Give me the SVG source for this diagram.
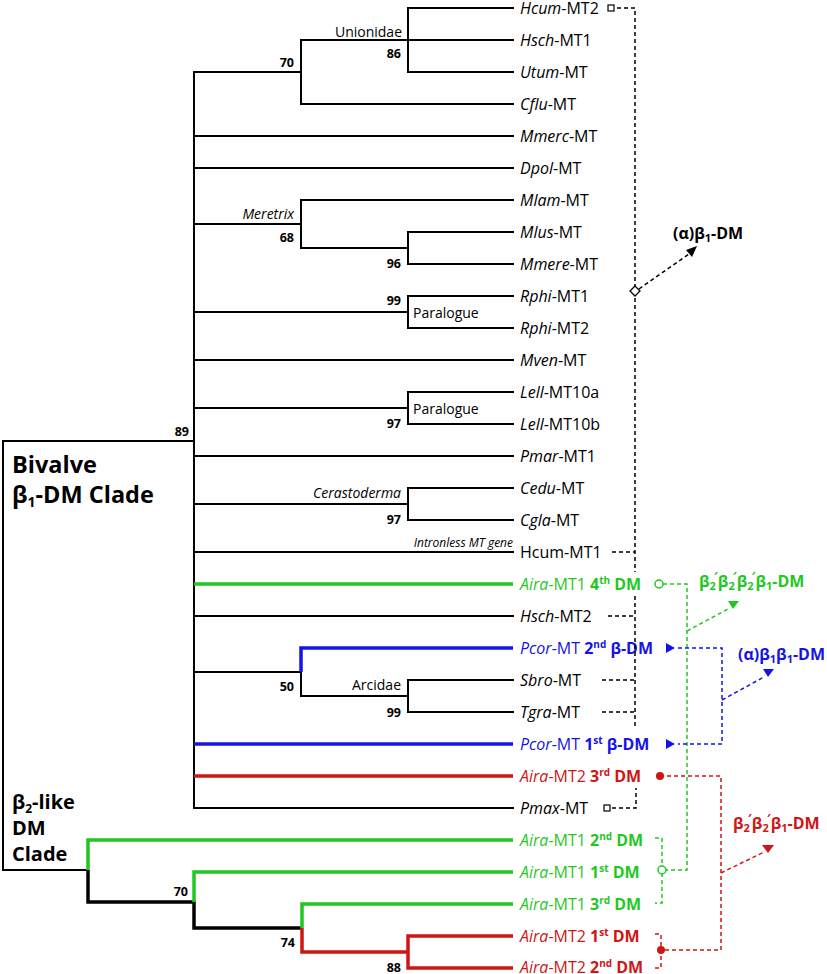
<svg xmlns="http://www.w3.org/2000/svg" width="827" height="974" viewBox="0 0 827 974">
<style>
text{font-family:"Open Sans","Liberation Sans",sans-serif;fill:#000}
.lf{font-size:16px;font-weight:500}
.i{font-style:italic}
.b{font-weight:bold}
.bs{font-size:12.5px;font-weight:bold;text-anchor:end}
.cl{font-size:14px;font-weight:500}
.end{text-anchor:end}
.br{fill:none;stroke:#000;stroke-width:2;stroke-linecap:square}
.tk{stroke-width:3.5;stroke-linecap:butt}
.gr{stroke:#1fc81f}
.bl{stroke:#1414e6}
.rd{stroke:#d01515}
.ds{fill:none;stroke-width:1.5;stroke-dasharray:4 3}
.k{stroke:#000}
.gt{fill:#1fc81f}
.bt{fill:#1414e6}
.rt{fill:#d01515}
.big{font-size:23.5px;font-weight:bold}
.mid{font-size:20px;font-weight:bold}
.dm{font-size:16px;font-weight:bold}
</style>
<rect width="827" height="974" fill="#fff"/>
<g id="connectors">
<path class="br" d="M194,72 V808 M194,72 H301 M301,40 V104 M301,40 H513 M301,104 H513 M408,8 V72 M408,8 H513 M408,72 H513 M194,136 H513 M194,168 H513 M194,224 H301 M301,200 V248 M301,200 H513 M301,248 H408 M408,232 V264 M408,232 H513 M408,264 H513 M194,312 H408 M408,296 V328 M408,296 H513 M408,328 H513 M194,360 H513 M194,408 H408 M408,392 V424 M408,392 H513 M408,424 H513 M194,456 H513 M194,504 H408 M408,488 V520 M408,488 H513 M408,520 H513 M194,552 H513 M194,616 H513 M194,672 H301 M301,672 V696 H408 M408,680 V712 M408,680 H513 M408,712 H513 M194,808 H513 M3,441 H194 M3,441 V870 H88"/>
<path class="br tk" d="M88,870 V902 H194 V928 H302"/>
<path class="br tk gr" d="M513,840 H88 V870 M513,872 H194 V902 M513,904 H302 V928 M194,584 H513"/>
<path class="br tk rd" d="M302,928 V952 H408 M513,936 H408 V968 H513 M194,776 H513"/>
<path class="br tk bl" d="M513,648 H301 V672 M194,744 H513"/>
</g>
<g id="clade-bivalve">
<text class="big" x="12" y="473">Bivalve</text>
<text class="big" x="12" y="503">β<tspan font-size="14" dy="4">1</tspan><tspan dy="-4">-DM Clade</tspan></text>
</g>
<g id="clade-beta2">
<text class="mid" x="12" y="809">β<tspan font-size="12" dy="4">2</tspan><tspan dy="-4">-like</tspan></text>
<text class="mid" x="12" y="835">DM</text>
<text class="mid" x="12" y="861">Clade</text>
</g>
<g id="internal-nodes">
<text class="bs" x="189" y="436">89</text>
<text class="bs" x="294" y="67">70</text>
<text class="bs" x="401" y="58">86</text>
<text class="cl end" x="402" y="37">Unionidae</text>
<text class="cl end i" x="294" y="219">Meretrix</text>
<text class="bs" x="294" y="242">68</text>
<text class="bs" x="401" y="268">96</text>
<text class="bs" x="401" y="305">99</text>
<text class="cl" x="413" y="318">Paralogue</text>
<text class="cl" x="413" y="414">Paralogue</text>
<text class="bs" x="401" y="428">97</text>
<text class="cl end i" x="401" y="498">Cerastoderma</text>
<text class="bs" x="401" y="524">97</text>
<text class="end i" font-size="12" x="513" y="547">Intronless MT gene</text>
<text class="bs" x="294" y="691">50</text>
<text class="cl end" x="401" y="690">Arcidae</text>
<text class="bs" x="401" y="717">99</text>
<text class="bs" x="188" y="896">70</text>
<text class="bs" x="295" y="947">74</text>
<text class="bs" x="401" y="972">88</text>
</g>
<g id="leaf-Hcum-MT2"><text class="lf" x="520" y="14"><tspan class="i">Hcum</tspan>-MT2</text></g>
<g id="leaf-Hsch-MT1"><text class="lf" x="520" y="46"><tspan class="i">Hsch</tspan>-MT1</text></g>
<g id="leaf-Utum-MT"><text class="lf" x="520" y="78"><tspan class="i">Utum</tspan>-MT</text></g>
<g id="leaf-Cflu-MT"><text class="lf" x="520" y="110"><tspan class="i">Cflu</tspan>-MT</text></g>
<g id="leaf-Mmerc-MT"><text class="lf" x="520" y="142"><tspan class="i">Mmerc</tspan>-MT</text></g>
<g id="leaf-Dpol-MT"><text class="lf" x="520" y="174"><tspan class="i">Dpol</tspan>-MT</text></g>
<g id="leaf-Mlam-MT"><text class="lf" x="520" y="206"><tspan class="i">Mlam</tspan>-MT</text></g>
<g id="leaf-Mlus-MT"><text class="lf" x="520" y="238"><tspan class="i">Mlus</tspan>-MT</text></g>
<g id="leaf-Mmere-MT"><text class="lf" x="520" y="270"><tspan class="i">Mmere</tspan>-MT</text></g>
<g id="leaf-Rphi-MT1"><text class="lf" x="520" y="302"><tspan class="i">Rphi</tspan>-MT1</text></g>
<g id="leaf-Rphi-MT2"><text class="lf" x="520" y="334"><tspan class="i">Rphi</tspan>-MT2</text></g>
<g id="leaf-Mven-MT"><text class="lf" x="520" y="366"><tspan class="i">Mven</tspan>-MT</text></g>
<g id="leaf-Lell-MT10a"><text class="lf" x="520" y="398"><tspan class="i">Lell</tspan>-MT10a</text></g>
<g id="leaf-Lell-MT10b"><text class="lf" x="520" y="430"><tspan class="i">Lell</tspan>-MT10b</text></g>
<g id="leaf-Pmar-MT1"><text class="lf" x="520" y="462"><tspan class="i">Pmar</tspan>-MT1</text></g>
<g id="leaf-Cedu-MT"><text class="lf" x="520" y="494"><tspan class="i">Cedu</tspan>-MT</text></g>
<g id="leaf-Cgla-MT"><text class="lf" x="520" y="526"><tspan class="i">Cgla</tspan>-MT</text></g>
<g id="leaf-Hcum-MT1"><text class="lf" x="520" y="558">Hcum-MT1</text></g>
<g id="leaf-Aira-MT1-4th"><text class="lf gt" x="520" y="590"><tspan class="i">Aira</tspan>-MT1 <tspan class="b">4</tspan><tspan class="b" font-size="10" dy="-6">th</tspan><tspan class="b" dy="6"> DM</tspan></text></g>
<g id="leaf-Hsch-MT2"><text class="lf" x="520" y="622"><tspan class="i">Hsch</tspan>-MT2</text></g>
<g id="leaf-Pcor-MT-2nd"><text class="lf bt" x="520" y="654"><tspan class="i">Pcor</tspan>-MT <tspan class="b">2</tspan><tspan class="b" font-size="10" dy="-6">nd</tspan><tspan class="b" dy="6"> β-DM</tspan></text></g>
<g id="leaf-Sbro-MT"><text class="lf" x="520" y="686"><tspan class="i">Sbro</tspan>-MT</text></g>
<g id="leaf-Tgra-MT"><text class="lf" x="520" y="718"><tspan class="i">Tgra</tspan>-MT</text></g>
<g id="leaf-Pcor-MT-1st"><text class="lf bt" x="520" y="750"><tspan class="i">Pcor</tspan>-MT <tspan class="b">1</tspan><tspan class="b" font-size="10" dy="-6">st</tspan><tspan class="b" dy="6"> β-DM</tspan></text></g>
<g id="leaf-Aira-MT2-3rd"><text class="lf rt" x="520" y="782"><tspan class="i">Aira</tspan>-MT2 <tspan class="b">3</tspan><tspan class="b" font-size="10" dy="-6">rd</tspan><tspan class="b" dy="6"> DM</tspan></text></g>
<g id="leaf-Pmax-MT"><text class="lf" x="520" y="814"><tspan class="i">Pmax</tspan>-MT</text></g>
<g id="leaf-Aira-MT1-2nd"><text class="lf gt" x="520" y="846"><tspan class="i">Aira</tspan>-MT1 <tspan class="b">2</tspan><tspan class="b" font-size="10" dy="-6">nd</tspan><tspan class="b" dy="6"> DM</tspan></text></g>
<g id="leaf-Aira-MT1-1st"><text class="lf gt" x="520" y="878"><tspan class="i">Aira</tspan>-MT1 <tspan class="b">1</tspan><tspan class="b" font-size="10" dy="-6">st</tspan><tspan class="b" dy="6"> DM</tspan></text></g>
<g id="leaf-Aira-MT1-3rd"><text class="lf gt" x="520" y="910"><tspan class="i">Aira</tspan>-MT1 <tspan class="b">3</tspan><tspan class="b" font-size="10" dy="-6">rd</tspan><tspan class="b" dy="6"> DM</tspan></text></g>
<g id="leaf-Aira-MT2-1st"><text class="lf rt" x="520" y="942"><tspan class="i">Aira</tspan>-MT2 <tspan class="b">1</tspan><tspan class="b" font-size="10" dy="-6">st</tspan><tspan class="b" dy="6"> DM</tspan></text></g>
<g id="leaf-Aira-MT2-2nd"><text class="lf rt" x="520" y="973"><tspan class="i">Aira</tspan>-MT2 <tspan class="b">2</tspan><tspan class="b" font-size="10" dy="-6">nd</tspan><tspan class="b" dy="6"> DM</tspan></text></g>
<g id="annot-alpha-beta1">
<path class="ds k" d="M617,8 H635 V572 M635,596 V728 M612,552 H635 M608,616 H635 M602,680 H635 M602,712 H635 M612,808 H636 V788"/>
<rect x="608" y="5" width="6" height="6" fill="#fff" stroke="#000" stroke-width="1.2"/>
<rect x="604" y="805" width="6" height="6" fill="#fff" stroke="#000" stroke-width="1.2"/>
<path class="ds k" d="M639,289 L689,254"/>
<polygon points="697,246 686,250 692,257" fill="#000"/>
<polygon points="635,286 640,291 635,296 630,291" fill="#fff" stroke="#000" stroke-width="1.3"/>
<text class="dm" x="673" y="239">(α)β<tspan font-size="11" dy="3">1</tspan><tspan dy="-3">-DM</tspan></text>
</g>
<g id="annot-green">
<path class="ds gr" d="M663,584 H687 V870 H666 M655,838 H662 V903 H655 M687,631 L728,609"/>
<circle cx="659" cy="584" r="4" fill="#fff" stroke="#1fc81f" stroke-width="1.5"/>
<circle cx="662" cy="870" r="4" fill="#fff" stroke="#1fc81f" stroke-width="1.5"/>
<polygon points="728,601 739,601 733,609" fill="#1fc81f"/>
<text class="dm gt" x="699" y="587">β<tspan font-size="11" dy="3">2</tspan><tspan font-size="13" dx="-2" dy="-9">′</tspan><tspan dy="6">β</tspan><tspan font-size="11" dy="3">2</tspan><tspan font-size="13" dx="-2" dy="-9">′</tspan><tspan dy="6">β</tspan><tspan font-size="11" dy="3">2</tspan><tspan font-size="13" dx="-2" dy="-9">′</tspan><tspan dy="6">β</tspan><tspan font-size="11" dy="3">1</tspan><tspan dy="-3">-DM</tspan></text>
</g>
<g id="annot-blue">
<path class="ds bl" d="M678,648 H722 V744 H678 M722,700 L764,677"/>
<polygon points="666,643 675,648 666,653" fill="#1414e6"/>
<polygon points="666,739 675,744 666,749" fill="#1414e6"/>
<polygon points="763,669 774,669 768,677" fill="#1414e6"/>
<text class="dm bt" x="738" y="660">(α)β<tspan font-size="11" dy="3">1</tspan><tspan dy="-3">β</tspan><tspan font-size="11" dy="3">1</tspan><tspan dy="-3">-DM</tspan></text>
</g>
<g id="annot-red">
<path class="ds rd" d="M660,776 H721 V950 H661 M655,934 H661 V968 H655 M721,873 L764,852"/>
<circle cx="660" cy="776" r="4" fill="#d01515"/>
<circle cx="661" cy="950" r="4" fill="#d01515"/>
<polygon points="762,845 774,845 768,853" fill="#d01515"/>
<text class="dm rt" x="733" y="829">β<tspan font-size="11" dy="3">2</tspan><tspan font-size="13" dx="-2" dy="-9">′</tspan><tspan dy="6">β</tspan><tspan font-size="11" dy="3">2</tspan><tspan font-size="13" dx="-2" dy="-9">′</tspan><tspan dy="6">β</tspan><tspan font-size="11" dy="3">1</tspan><tspan dy="-3">-DM</tspan></text>
</g>
</svg>
